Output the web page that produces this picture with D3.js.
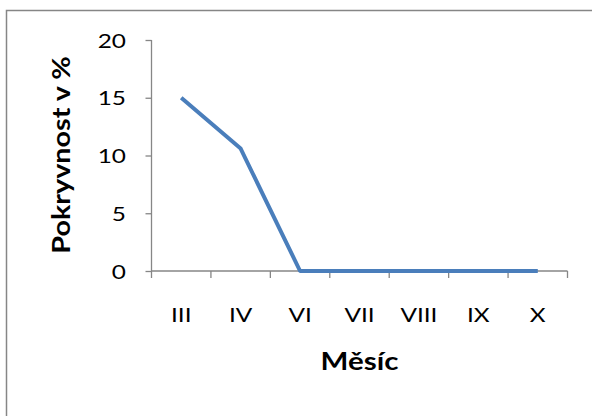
<!DOCTYPE html>
<html>
<head>
<meta charset="utf-8">
<script src="https://cdn.jsdelivr.net/npm/d3@7/dist/d3.min.js"></script>
<style>
  html, body { margin: 0; padding: 0; background: #fff; }
  svg { display: block; }
  text { font-family: Lato, "Open Sans", sans-serif; fill: #000; }
</style>
</head>
<body>
<svg id="chart" width="592" height="416"></svg>
<script>
// Monthly cover (%) of the plant stand
const months = ["III", "IV", "VI", "VII", "VIII", "IX", "X"];
const cover = [15, 10.6, 0, 0, 0, 0, 0];
const yTicks = [0, 5, 10, 15, 20];
const xTitle = "Měsíc";
const yTitle = "Pokryvnost v %";

const W = 592, H = 416;
const plot = { left: 151.5, right: 567.5, top: 40, bottom: 271 };
const tickStretch = 1.22;        // wide lettering of tick labels
const titleStretch = 1.18;
const axisColor = "#868686";
const lineColor = "#4A7EBB";

const svg = d3.select("#chart");

// Outer frame of the chart area (open to the right and bottom)
svg.append("rect")
  .attr("x", 6.5).attr("y", 10.5)
  .attr("width", W + 20).attr("height", H + 20)
  .attr("fill", "#fff")
  .attr("stroke", axisColor).attr("stroke-width", 1.5);

const x = d3.scaleBand().domain(months).range([plot.left, plot.right]).padding(0);
const y = d3.scaleLinear().domain([0, 20]).range([plot.bottom, plot.top]);

// Y axis
const yAxis = svg.append("g")
  .attr("transform", `translate(${plot.left},0)`)
  .call(d3.axisLeft(y).tickValues(yTicks).tickSize(6).tickFormat(d3.format("d")));
yAxis.attr("font-family", null).attr("font-size", null);
yAxis.select(".domain").attr("stroke", axisColor).attr("stroke-width", 1.3)
  .attr("d", `M0,${plot.top}V${plot.bottom}`);
yAxis.selectAll(".tick line").attr("stroke", axisColor).attr("stroke-width", 1.3);
yAxis.selectAll(".tick text")
  .attr("x", null).attr("dy", null)
  .attr("transform", `translate(-25.5,7.2) scale(${tickStretch},1)`)
  .attr("text-anchor", "end")
  .style("font-size", "20px");

// X axis: line, boundary ticks, centred category labels
const xAxisG = svg.append("g").attr("transform", `translate(0,${plot.bottom})`);
xAxisG.append("line")
  .attr("x1", plot.left).attr("x2", plot.right)
  .attr("stroke", axisColor).attr("stroke-width", 1.3);
const bounds = months.map(m => x(m)).concat([x(months[months.length - 1]) + x.bandwidth()]);
xAxisG.selectAll("line.tick").data(bounds).join("line")
  .attr("class", "tick")
  .attr("x1", d => d).attr("x2", d => d)
  .attr("y1", 0).attr("y2", 7)
  .attr("stroke", axisColor).attr("stroke-width", 1.3);
xAxisG.selectAll("text.lbl").data(months).join("text")
  .attr("class", "lbl")
  .attr("text-anchor", "middle")
  .attr("transform", d => `translate(${x(d) + x.bandwidth() / 2},51) scale(${tickStretch},1)`)
  .style("font-size", "20px")
  .text(d => d);

// Data line
const line = d3.line()
  .x((d, i) => x(months[i]) + x.bandwidth() / 2)
  .y(d => y(d));
svg.append("path")
  .datum(cover)
  .attr("d", line)
  .attr("fill", "none")
  .attr("stroke", lineColor)
  .attr("stroke-width", 4)
  .attr("stroke-linejoin", "round");

// Axis titles
svg.append("text")
  .attr("text-anchor", "middle")
  .attr("transform", `translate(${(plot.left + plot.right) / 2},370) scale(${titleStretch},1)`)
  .style("font-size", "25px").style("font-weight", "bold")
  .text(xTitle);

svg.append("text")
  .attr("text-anchor", "middle")
  .attr("transform", `translate(70,155) scale(1,1.15) rotate(-90)`)
  .style("font-size", "25px").style("font-weight", "bold")
  .text(yTitle);
</script>
</body>
</html>
